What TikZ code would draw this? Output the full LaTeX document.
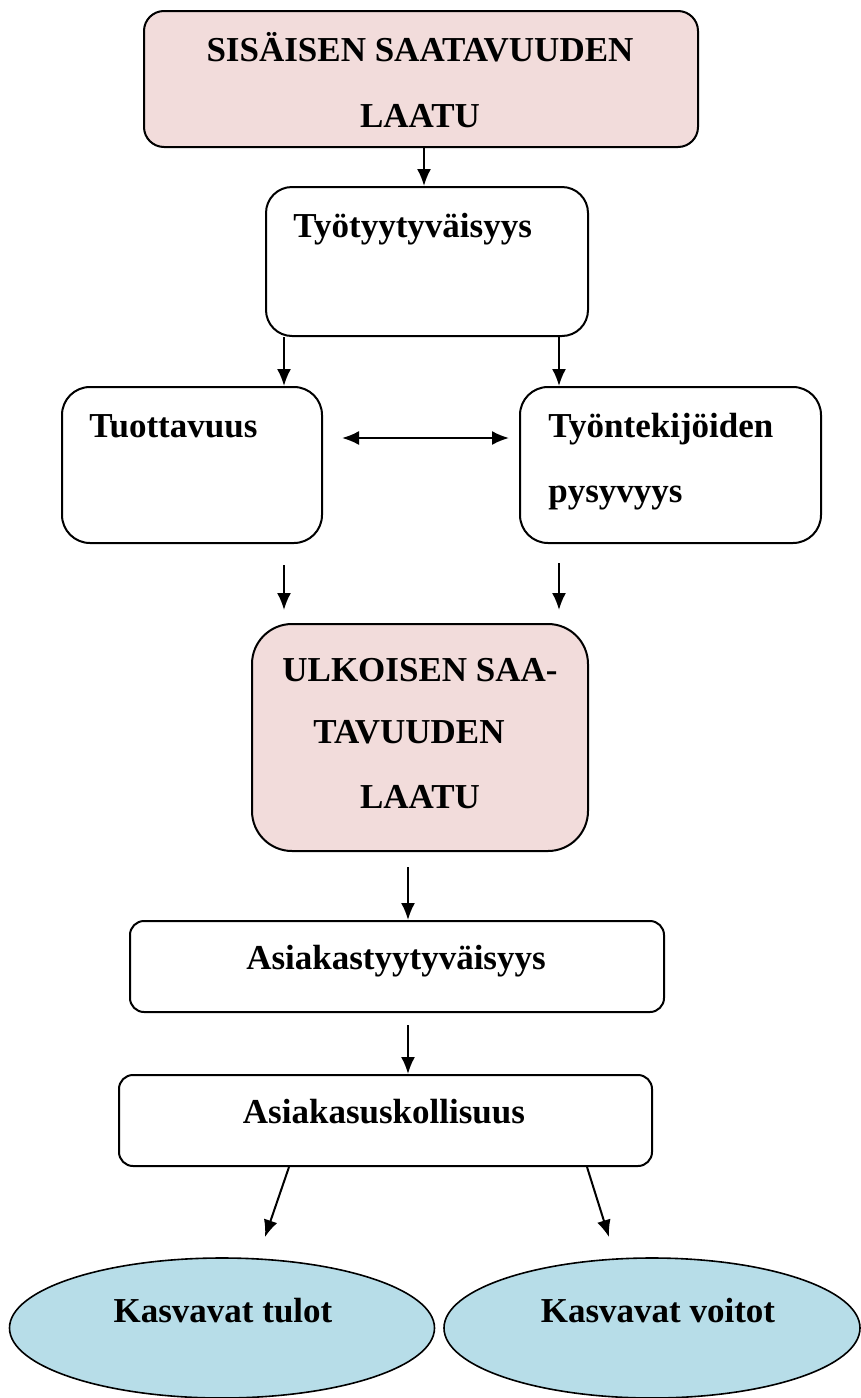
\documentclass[tikz,border=0pt]{standalone}
\usepackage{fontspec}
\setmainfont{Liberation Serif}
\usetikzlibrary{arrows.meta,shapes.geometric}
\definecolor{pinkfill}{HTML}{F2DCDB}
\definecolor{bluefill}{HTML}{B7DDE8}
\tikzset{
  box/.style={draw,line width=1pt,rounded corners=10pt,anchor=north west,inner sep=0pt},
  oval/.style={draw,line width=0.8pt,ellipse,fill=bluefill,inner sep=0pt},
  lbl/.style={font=\bfseries\fontsize{17.5}{20}\selectfont,inner sep=0pt},
  tip/.tip={Latex[length=8.5pt,width=7pt]},
  arr/.style={-tip,line width=1pt},
  dblarr/.style={tip-tip,line width=1pt},
}
\begin{document}
\begin{tikzpicture}[x=0.5pt,y=-0.5pt]
\useasboundingbox (0,0) rectangle (861,1398);

% boxes
\node[box,fill=pinkfill,minimum width=277pt,minimum height=68pt] (b1) at (143,10) {};
\node[box,rounded corners=13pt,minimum width=161pt,minimum height=74.5pt] (b2) at (265,186) {};
\node[box,rounded corners=14pt,minimum width=130pt,minimum height=78pt] (b3) at (61,386) {};
\node[box,rounded corners=14pt,minimum width=150.5pt,minimum height=78pt] (b4) at (519,386) {};
\node[box,fill=pinkfill,rounded corners=20pt,minimum width=168pt,minimum height=113.5pt] (b5) at (251,623) {};
\node[box,rounded corners=7pt,minimum width=267pt,minimum height=45.5pt] (b6) at (129,920) {};
\node[box,rounded corners=7pt,minimum width=266.5pt,minimum height=45.5pt] (b7) at (118,1074) {};
\node[oval,minimum width=212.5pt,minimum height=70pt] (e1) at (222,1328) {};
\node[oval,minimum width=208pt,minimum height=70pt] (e2) at (652,1328) {};

% labels
\node[lbl,anchor=base] (t1a) at (420,61) {SISÄISEN SAATAVUUDEN};
\node[lbl,anchor=base] (t1b) at (420,127) {LAATU};
\node[lbl,anchor=base west] (t2) at (293,237) {Työtyytyväisyys};
\node[lbl,anchor=base west] (t3) at (89,437) {Tuottavuus};
\node[lbl,anchor=base west] (t4a) at (548,437) {Työntekijöiden};
\node[lbl,anchor=base west] (t4b) at (548,502) {pysyvyys};
\node[lbl,anchor=base] (t5a) at (420,681) {ULKOISEN SAA-};
\node[lbl,anchor=base] (t5b) at (409,743) {TAVUUDEN};
\node[lbl,anchor=base] (t5c) at (420,808) {LAATU};
\node[lbl,anchor=base] (t6) at (396,969) {Asiakastyytyväisyys};
\node[lbl,anchor=base] (t7) at (384,1123) {Asiakasuskollisuus};
\node[lbl,anchor=base] (t8) at (223,1322) {Kasvavat tulot};
\node[lbl,anchor=base] (t9) at (658,1322) {Kasvavat voitot};

% guide columns and free arrow ends
\coordinate (cA) at (424,0);
\coordinate (cL) at (284,0);
\coordinate (cR) at (559,0);
\coordinate (cM) at (408,0);
\coordinate (d1) at (342,438);
\coordinate (d2) at (509,438);
\coordinate (gL1) at (284,565);
\coordinate (gL2) at (284,610);
\coordinate (gR1) at (559,563);
\coordinate (gR2) at (559,610);
\coordinate (h1) at (408,867);
\coordinate (h2) at (408,1025);
\coordinate (k1) at (289,0);
\coordinate (k2) at (587,0);
\coordinate (m1) at (265,1237);
\coordinate (m2) at (609,1237);

% connectors
\draw[arr] (b1.south -| cA) -- (b2.north -| cA);
\draw[arr] (b2.south -| cL) -- (b3.north -| cL);
\draw[arr] (b2.south -| cR) -- (b4.north -| cR);
\draw[dblarr] (d1) -- (d2);
\draw[arr] (gL1) -- (gL2);
\draw[arr] (gR1) -- (gR2);
\draw[arr] (h1) -- (b6.north -| cM);
\draw[arr] (h2) -- (b7.north -| cM);
\draw[arr] (b7.south -| k1) -- (m1);
\draw[arr] (b7.south -| k2) -- (m2);
\end{tikzpicture}
\end{document}
